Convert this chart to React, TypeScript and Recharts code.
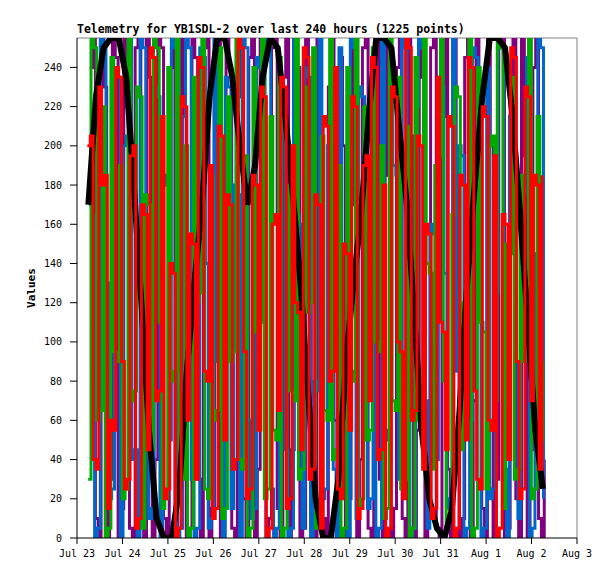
import React from 'react';
import { LineChart, Line, XAxis, YAxis, ReferenceLine } from 'recharts';

// hours since Jul 23 00:00, one tick per day
const dayTicks = [0, 24, 48, 72, 96, 120, 144, 168, 192, 216, 240, 264];
const dayLabels = ['Jul 23', 'Jul 24', 'Jul 25', 'Jul 26', 'Jul 27', 'Jul 28', 'Jul 29', 'Jul 30', 'Jul 31', 'Aug 1', 'Aug 2', 'Aug 3'];
const valueTicks = [0, 20, 40, 60, 80, 100, 120, 140, 160, 180, 200, 220, 240];

// fast channels, one sample every 1.5 hours (approximate)
const sampleStep = 1.5;
const red = [
  200, 205, 40, 35, 230, 180, 185, 15, 60, 55,
  240, 235, 90, 25, 30, 195, 200, 5, 10, 170,
  165, 45, 250, 245, 70, 75, 215, 20, 25, 140,
  135, 0, 5, 225, 220, 60, 155, 150, 30, 245,
  240, 85, 80, 190, 10, 15, 210, 205, 50, 175,
  170, 35, 40, 255, 250, 95, 20, 25, 185, 180,
  55, 230, 225, 0, 5, 160, 165, 65, 235, 230,
  15, 20, 200, 120, 115, 45, 250, 245, 30, 35,
  175, 170, 5, 215, 210, 80, 85, 240, 25, 20,
  150, 145, 55, 225, 220, 10, 15, 190, 195, 70,
  245, 240, 40, 45, 180, 0, 5, 230, 225, 100,
  95, 20, 255, 250, 60, 65, 205, 200, 35, 160,
  155, 10, 15, 235, 110, 105, 45, 215, 210, 0,
  5, 185, 180, 50, 245, 240, 75, 30, 25, 220,
  215, 60, 55, 195, 0, 5, 165, 160, 40, 250,
  245, 90, 20, 25, 230, 225, 70, 185, 180, 35,
  185,
];
const green = [
  30, 255, 250, 60, 65, 220, 0, 5, 245, 95,
  90, 190, 20, 25, 255, 70, 75, 230, 225, 5,
  175, 170, 45, 255, 250, 110, 15, 20, 240, 80,
  85, 255, 35, 30, 200, 0, 5, 235, 120, 125,
  255, 25, 20, 185, 60, 65, 250, 10, 15, 225,
  90, 95, 255, 40, 35, 195, 0, 5, 240, 105,
  110, 255, 20, 25, 215, 55, 50, 245, 0, 5,
  180, 75, 70, 255, 30, 35, 230, 115, 120, 250,
  5, 10, 205, 65, 60, 255, 40, 45, 190, 0,
  5, 240, 85, 80, 255, 15, 20, 220, 50, 55,
  250, 100, 95, 200, 10, 15, 255, 70, 65, 235,
  25, 30, 210, 0, 5, 245, 60, 55, 255, 140,
  135, 35, 190, 195, 255, 80, 5, 10, 165, 230,
  225, 45, 120, 125, 255, 0, 5, 240, 110, 105,
  25, 200, 205, 70, 255, 250, 15, 150, 145, 235,
  30, 35, 185, 90, 95, 255, 20, 25, 215, 50,
  90,
];
const blue = [
  170, 165, 0, 5, 255, 250, 130, 20, 25, 240,
  235, 0, 200, 205, 255, 40, 45, 0, 255, 250,
  160, 10, 15, 230, 225, 0, 185, 180, 50, 255,
  250, 0, 5, 215, 255, 250, 30, 0, 5, 250,
  245, 140, 5, 10, 255, 90, 85, 0, 235, 230,
  15, 180, 175, 0, 255, 250, 60, 10, 15, 245,
  240, 120, 255, 250, 25, 0, 5, 225, 220, 45,
  0, 5, 255, 165, 160, 5, 240, 235, 0, 80,
  75, 255, 20, 25, 200, 195, 35, 0, 250, 150,
  145, 0, 255, 250, 10, 230, 225, 100, 15, 20,
  245, 0, 5, 255, 55, 50, 240, 190, 185, 30,
  255, 250, 110, 0, 5, 220, 255, 250, 70, 5,
  160, 155, 40, 235, 230, 135, 15, 20, 255, 85,
  200, 195, 0, 5, 60, 250, 245, 175, 0, 5,
  240, 20, 25, 125, 255, 250, 35, 0, 215, 210,
  90, 10, 180, 175, 245, 0, 5, 145, 255, 250,
  20,
];
const purple = [
  240, 255, 10, 0, 255, 230, 0, 30, 255, 245,
  0, 15, 255, 220, 5, 0, 250, 255, 20, 0,
  255, 235, 0, 40, 255, 250, 10, 0, 240, 255,
  0, 25, 255, 215, 0, 5, 255, 245, 30, 0,
  250, 255, 0, 15, 230, 255, 0, 50, 255, 240,
  5, 0, 255, 225, 20, 0, 245, 255, 0, 35,
  255, 210, 0, 10, 250, 255, 15, 0, 235, 255,
  0, 45, 255, 240, 0, 5, 255, 220, 25, 0,
  255, 190, 10, 0, 230, 255, 60, 0, 245, 200,
  0, 20, 255, 170, 0, 40, 250, 255, 5, 0,
  220, 255, 30, 0, 255, 185, 0, 15, 240, 255,
  10, 0, 255, 205, 0, 55, 255, 235, 0, 25,
  250, 255, 5, 0, 215, 255, 35, 0, 255, 180,
  0, 10, 245, 255, 0, 70, 255, 225, 15, 0,
  255, 200, 0, 30, 250, 255, 0, 5, 230, 255,
  20, 0, 255, 195, 0, 45, 240, 255, 10, 0,
  40,
];

// slow channel, one sample every 4 hours
const blackHours = [
  6, 10, 14, 18, 22, 26, 30, 34, 38, 42, 46, 50, 54, 58, 62, 66, 70, 74, 78, 82,
  86, 90, 94, 98, 102, 106, 110, 114, 118, 122, 126, 130, 134, 138, 142, 146, 150, 154, 158, 162,
  166, 170, 174, 178, 182, 186, 190, 194, 198, 202, 206, 210, 214, 218, 222, 226, 230, 234, 238, 242,
  246,
];
const black = [
  170, 225, 250, 255, 255, 235, 180, 120, 55, 10, 0, 0, 25, 85, 130, 170, 225, 255, 255, 235,
  200, 170, 190, 235, 255, 250, 215, 175, 130, 75, 20, 0, 0, 30, 90, 130, 165, 215, 255, 255,
  250, 210, 172, 115, 55, 20, 5, 0, 15, 65, 130, 180, 225, 255, 255, 250, 215, 165, 110, 55,
  25,
];

const toPoints = (vals: number[], start: number) =>
  vals.map((v, i) => ({ h: start + i * sampleStep, v }));

const redData = toPoints(red, 5.5);
const greenData = toPoints(green, 5.9);
const blueData = toPoints(blue, 6.3);
const purpleData = toPoints(purple, 6.7);
const blackData = blackHours.map((h, i) => ({ h, v: black[i] }));

const mono = '"DejaVu Sans Mono", "Liberation Mono", monospace';

const App: React.FC = () => {
  return (
    <div style={{ position: 'absolute', left: 0, top: 0, width: 615, height: 579, background: '#fff' }}>
      <div
        style={{
          position: 'absolute', left: 77, top: 23, fontFamily: mono, fontSize: 11.5,
          fontWeight: 'bold', lineHeight: '13px', whiteSpace: 'nowrap', color: '#000',
        }}
      >
        Telemetry for YB1SDL-2 over last 240 hours (1225 points)
      </div>
      <div
        style={{
          position: 'absolute', left: 31, top: 288, fontFamily: mono, fontSize: 11,
          fontWeight: 'bold', transform: 'translate(-50%, -50%) rotate(-90deg)', color: '#000',
        }}
      >
        Values
      </div>
      <LineChart
        width={615}
        height={579}
        margin={{ top: 38, right: 38, bottom: 11, left: 17 }}
        style={{ position: 'absolute', left: 0, top: 0 }}
      >
        <XAxis
          type="number"
          dataKey="h"
          domain={[0, 264]}
          ticks={dayTicks}
          tickFormatter={(t: number) => dayLabels[dayTicks.indexOf(t)]}
          height={30}
          tickSize={6}
          tickMargin={6}
          stroke="#000"
          tick={{ fill: '#000', fontFamily: mono, fontSize: 10 }}
          allowDataOverflow
          interval={0}
        />
        <YAxis
          type="number"
          domain={[0, 255]}
          ticks={valueTicks}
          width={60}
          tickSize={7}
          tickMargin={8}
          stroke="#000"
          tick={{ fill: '#000', fontFamily: mono, fontSize: 10 }}
          allowDataOverflow
          interval={0}
        />
        <ReferenceLine y={255} stroke="#808080" strokeWidth={1} />
        <ReferenceLine x={264} stroke="#808080" strokeWidth={1} />
        <Line data={purpleData} dataKey="v" type="stepAfter" stroke="#800080" strokeWidth={3} dot={false} isAnimationActive={false} />
        <Line data={blueData} dataKey="v" type="stepAfter" stroke="#0066cc" strokeWidth={3} dot={false} isAnimationActive={false} />
        <Line data={greenData} dataKey="v" type="stepAfter" stroke="#00aa00" strokeWidth={3} dot={false} isAnimationActive={false} />
        <Line data={blackData} dataKey="v" type="linear" stroke="#000000" strokeWidth={6} dot={false} isAnimationActive={false} />
        <Line data={redData} dataKey="v" type="stepAfter" stroke="#ff0000" strokeWidth={3} dot={false} isAnimationActive={false} />
      </LineChart>
    </div>
  );
};

export default App;
